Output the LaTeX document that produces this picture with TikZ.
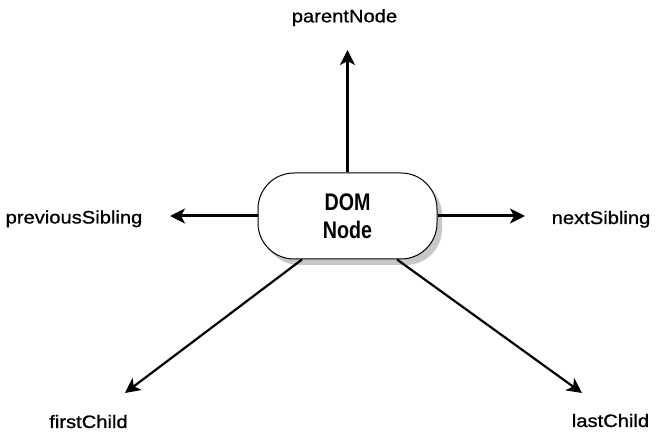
\documentclass[tikz,border=0pt]{standalone}
\usepackage{fontspec}
\setmainfont{Liberation Sans}[FakeStretch=1.12, FakeBold=0.9]
\newfontfamily\domfont{Liberation Sans Bold}[FakeStretch=0.82]
\usetikzlibrary{arrows.meta,shadows}
\begin{document}
\begin{tikzpicture}[x=1pt,y=1pt,
  domnode/.style={draw=black, line width=1pt, fill=white, rectangle,
    rounded corners=36pt, minimum width=179pt, minimum height=86pt,
    inner sep=0pt, align=center,
    font=\domfont\fontsize{24}{28}\selectfont,
    drop shadow={shadow xshift=5pt, shadow yshift=-6pt, fill=black!22, opacity=1}},
  lbl/.style={anchor=base, inner sep=0pt, font=\fontsize{18}{20}\selectfont},
  tip/.style={-{Stealth[length=15pt,width=15pt,inset=4pt]}},
  straightarrow/.style={tip, line width=3pt},
  diagarrow/.style={tip, line width=2.2pt}]
\useasboundingbox (0,0) rectangle (659,438);
\node[domnode] (dom) at (347.5,222) {DOM\\Node};
\coordinate (upTip) at (347.5,388);
\coordinate (leftTip) at (170,222);
\coordinate (rightTip) at (525,222);
\coordinate (dlTip) at (125,45);
\coordinate (drTip) at (582,45);
\coordinate (dlStart) at ([xshift=-45.5pt]dom.south);
\coordinate (drStart) at ([xshift=49.5pt]dom.south);
\draw[straightarrow] (dom.north) -- (upTip);
\draw[straightarrow] (dom.west) -- (leftTip);
\draw[straightarrow] (dom.east) -- (rightTip);
\draw[diagarrow] (dlStart) -- (dlTip);
\draw[diagarrow] (drStart) -- (drTip);
\node[lbl] (parent) at (344.5,415.7) {parentNode};
\node[lbl] (prev) at (74,214.5) {previousSibling};
\node[lbl] (next) at (601,214) {nextSibling};
\node[lbl] (first) at (88.5,10) {firstChild};
\node[lbl] (last) at (610.5,11) {lastChild};
\end{tikzpicture}
\end{document}
